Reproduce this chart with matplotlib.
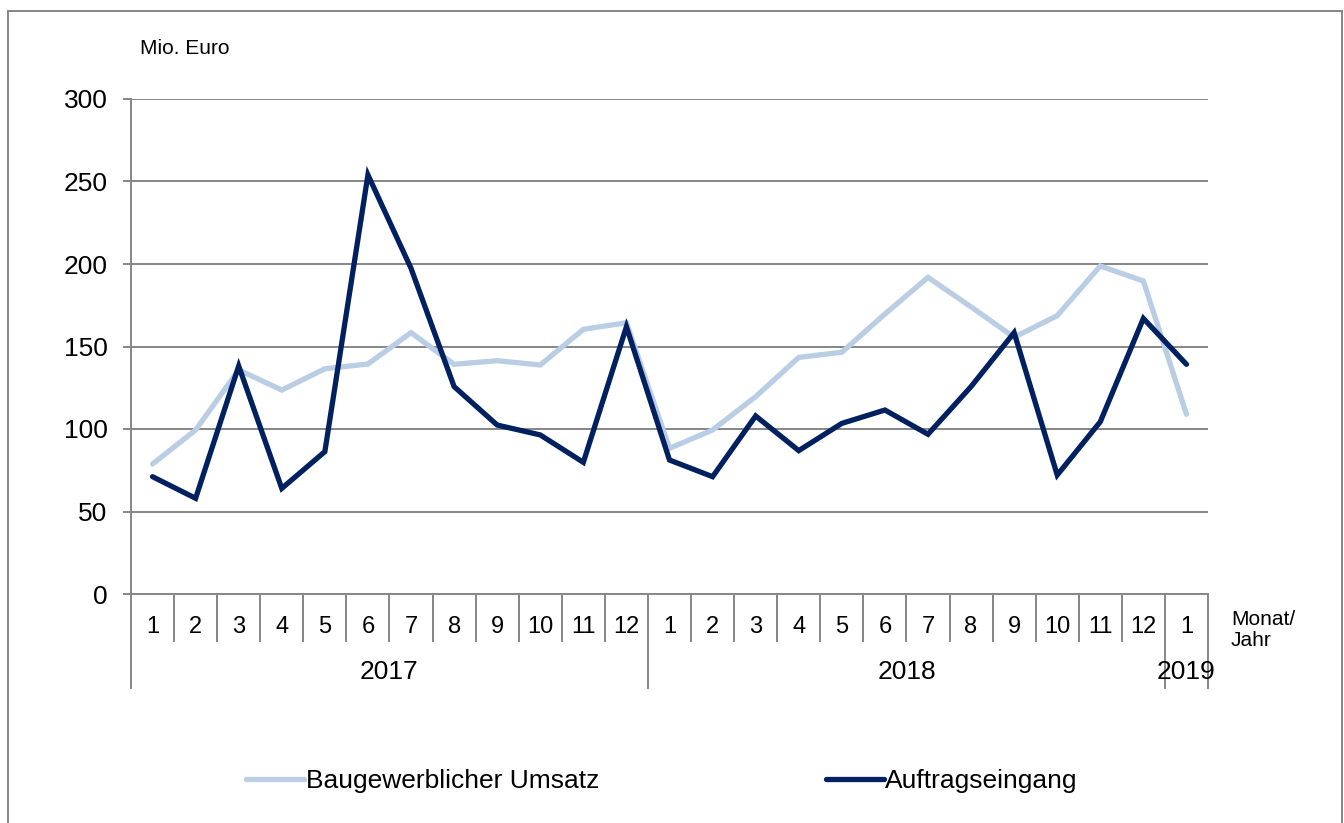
import matplotlib.pyplot as plt
from matplotlib.patches import Rectangle

plt.rcParams['font.family'] = ['Liberation Sans', 'DejaVu Sans']

#-------------------------------------------------------------------------------
#DATA

months = ['1', '2', '3', '4', '5', '6', '7', '8', '9', '10', '11', '12',
          '1', '2', '3', '4', '5', '6', '7', '8', '9', '10', '11', '12',
          '1']
years = ['2017', '2018', '2019']
year_len = [12, 12, 1]

umsatz = [78.8, 99.4, 135.8, 123.6, 136.5, 139.4, 158.4, 139.2, 141.4, 138.8,
          160.4, 164.4,
          88.3, 99.4, 119.6, 143.4, 146.5, 169.7, 191.9, 174.0, 155.6, 168.7,
          198.8, 189.7,
          108.9]
auftrag = [71.1, 58.0, 138.2, 64.0, 86.3, 254.0, 197.4, 125.7, 102.4, 96.4,
           79.8, 162.0,
           81.2, 71.1, 107.9, 86.9, 103.4, 111.5, 96.8, 125.7, 158.4, 72.1,
           104.4, 167.0,
           139.2]

c_light = '#B9CDE5'
c_dark = '#002060'
c_grid = '#868686'

#-------------------------------------------------------------------------------
#PLOT

W, H = 1344, 823
fig = plt.figure(figsize=(W/100, H/100), dpi=100)
ax = fig.add_axes([131/W, 1 - 594/H, (1208 - 131)/W, (594 - 99)/H])

x = [i + 0.5 for i in range(len(months))]
l1, = ax.plot(x, umsatz, color=c_light, lw=3.8, solid_joinstyle='miter',
              solid_capstyle='round', label='Baugewerblicher Umsatz')
l2, = ax.plot(x, auftrag, color=c_dark, lw=3.8, solid_joinstyle='miter',
              solid_capstyle='round', label='Auftragseingang')

ax.set_xlim(0, len(months))
ax.set_ylim(0, 300)
ax.set_yticks(range(0, 301, 50))
ax.tick_params(axis='y', labelsize=19, length=6, width=1.4, color=c_grid,
               pad=11)
ax.set_xticks([])
ax.yaxis.grid(True, color=c_grid, lw=1.4)
ax.set_axisbelow(True)
for s in ['top', 'right']:
    ax.spines[s].set_visible(False)
ax.spines['left'].set_color(c_grid)
ax.spines['left'].set_linewidth(1.4)
ax.spines['bottom'].set_color(c_grid)
ax.spines['bottom'].set_linewidth(1.4)

#month labels and separators
lvl1 = -(641 - 594)/495
lvl2 = -(688 - 594)/495
trans = ax.get_xaxis_transform()
for xi, m in zip(x, months):
    ax.text(xi, -(627 - 594)/495, m, transform=trans, ha='center',
            va='center', fontsize=17)
year_edges = [0]
for n in year_len:
    year_edges.append(year_edges[-1] + n)
for i in range(len(months) + 1):
    bottom = lvl2 if i in year_edges else lvl1
    ax.plot([i, i], [0, bottom], transform=trans, color=c_grid, lw=1.4,
            clip_on=False)
for y, a, b in zip(years, year_edges[:-1], year_edges[1:]):
    ax.text((a + b)/2, -(672 - 594)/495, y, transform=trans, ha='center',
            va='center', fontsize=19)

fig.text(140/W, 1 - 48/H, 'Mio. Euro', ha='left', va='center', fontsize=15)
fig.text(1231/W, 1 - 630/H, 'Monat/\nJahr', ha='left', va='center',
         fontsize=15, linespacing=1.15)

fig.legend(handles=[l1, l2], loc='center', bbox_to_anchor=(662/W, 1 - 781/H),
           ncol=2, frameon=False, fontsize=19, handlelength=2.2,
           handletextpad=0.05, columnspacing=8.6)

#outer border
fig.patches.append(Rectangle((8/W, -0.05), (1342 - 8)/W, 1.05 - 11/H,
                             transform=fig.transFigure, fill=False,
                             edgecolor=c_grid, lw=1.4))

plt.savefig('out.png', dpi=100)
